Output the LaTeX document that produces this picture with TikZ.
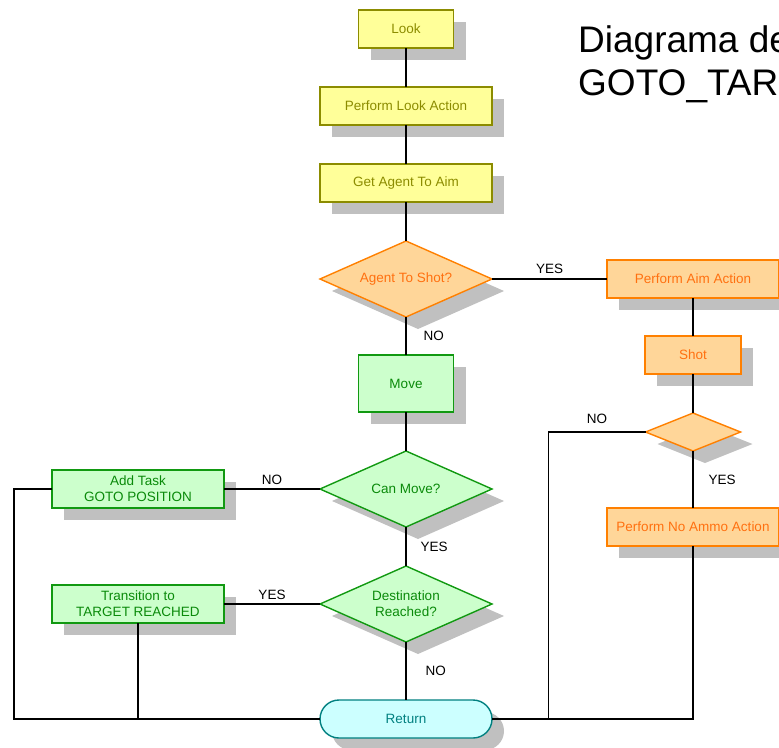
\documentclass[tikz,border=0pt]{standalone}
\usepackage{fontspec}
\setmainfont{Liberation Sans}
\usetikzlibrary{shapes.geometric, shapes.misc, shadows, positioning}
\definecolor{lookfill}{HTML}{FFFF99}
\definecolor{lookline}{HTML}{8C8C00}
\definecolor{aimfill}{HTML}{FFD699}
\definecolor{aimline}{HTML}{FF8000}
\definecolor{aimtext}{HTML}{FF7010}
\definecolor{movefill}{HTML}{CCFFCC}
\definecolor{moveline}{HTML}{119911}
\definecolor{movetext}{HTML}{0A8A0A}
\definecolor{retfill}{HTML}{CCFFFF}
\definecolor{retline}{HTML}{008080}
\definecolor{shade}{HTML}{C0C0C0}

\begin{document}
\begin{tikzpicture}[
  x=1pt, y=-1pt,
  node distance=39pt and 96pt,
  shad/.style={drop shadow={shadow xshift=12pt, shadow yshift=-12pt, fill=shade, opacity=1}},
  blk/.style={rectangle, draw, line width=1.4pt, inner sep=0pt, outer sep=0pt, minimum width=172pt, minimum height=38pt, align=center, font=\fontsize{13.5}{16}\selectfont, shad},
  dec/.style={diamond, draw, line width=1.4pt, inner sep=0pt, outer sep=0pt, aspect=2.26, minimum width=172pt, minimum height=76pt, align=center, font=\fontsize{13.5}{16}\selectfont, shad},
  look/.style={fill=lookfill, draw=lookline, text=lookline},
  aim/.style={fill=aimfill, draw=aimline, text=aimtext},
  mv/.style={fill=movefill, draw=moveline, text=movetext},
  rtn/.style={rounded rectangle, fill=retfill, draw=retline, text=retline},
  conn/.style={draw=black, line width=1.2pt},
  lbl/.style={font=\fontsize{13.5}{16}\selectfont, inner sep=2pt},
]
\useasboundingbox (0,0) rectangle (779,747);

% Title, top right
\node[anchor=north west, inner sep=0pt, align=left, font=\fontsize{37}{43}\selectfont] (title) at (578,25) {Diagrama de\\GOTO\_TAR};

% Main column: look steps, then the shot test
\node[blk, look, minimum width=95pt] (look) at (406,29) {Look};
\node[blk, look, below=of look] (lookact) {Perform Look Action};
\node[blk, look, below=of lookact] (getaim) {Get Agent To Aim};
\node[dec, aim, below=of getaim] (toshot) {Agent To Shot?};

% Move branch
\node[blk, mv, minimum width=95pt, minimum height=57pt, below=38pt of toshot] (move) {Move};
\node[dec, mv, below=of move] (canmove) {Can Move?};
\node[dec, mv, below=of canmove] (reached) {Destination\\Reached?};
\node[blk, mv, left=of canmove] (addtask) {Add Task\\GOTO POSITION};
\node[blk, mv, left=of reached] (trans) {Transition to\\TARGET REACHED};

% Return at the bottom
\node[blk, rtn, below=58pt of reached] (ret) {Return};

% Aim branch on the right
\node[blk, aim, right=115pt of toshot] (aimact) {Perform Aim Action};
\node[blk, aim, minimum width=96pt, below=38pt of aimact] (shot) {Shot};
\node[dec, aim, aspect=2.5, minimum width=95pt, minimum height=38pt, below=of shot] (ammo) {};
\node[blk, aim, below=57pt of ammo] (noammo) {Perform No Ammo Action};

% Straight links
\draw[conn] (look) -- (lookact);
\draw[conn] (lookact) -- (getaim);
\draw[conn] (getaim) -- (toshot);
\draw[conn] (toshot) -- node[lbl, above=3pt] (yes1) {YES} (aimact);
\draw[conn] (toshot) -- node[lbl, right=15pt] (no1) {NO} (move);
\draw[conn] (move) -- (canmove);
\draw[conn] (canmove) -- node[lbl, above=2pt] (no2) {NO} (addtask);
\draw[conn] (canmove) -- node[lbl, right=12pt] (yes2) {YES} (reached);
\draw[conn] (reached) -- node[lbl, above=2pt] (yes3) {YES} (trans);
\draw[conn] (reached) -- node[lbl, right=17pt] (no3) {NO} (ret);
\draw[conn] (aimact) -- (shot);
\draw[conn] (shot) -- (ammo);
\draw[conn] (ammo) -- node[lbl, right=13pt] (yes4) {YES} (noammo);

% Loops back to Return
\draw[conn] (addtask.west) -- ++(-38pt,0) |- (ret.west);
\draw[conn] (trans.south) |- (ret.west);
\draw[conn] (ammo.west) -- node[lbl, above=6pt] (no4) {NO} ++(-97pt,0) |- (ret.east);
\draw[conn] (noammo.south) |- (ret.east);
\end{tikzpicture}
\end{document}
